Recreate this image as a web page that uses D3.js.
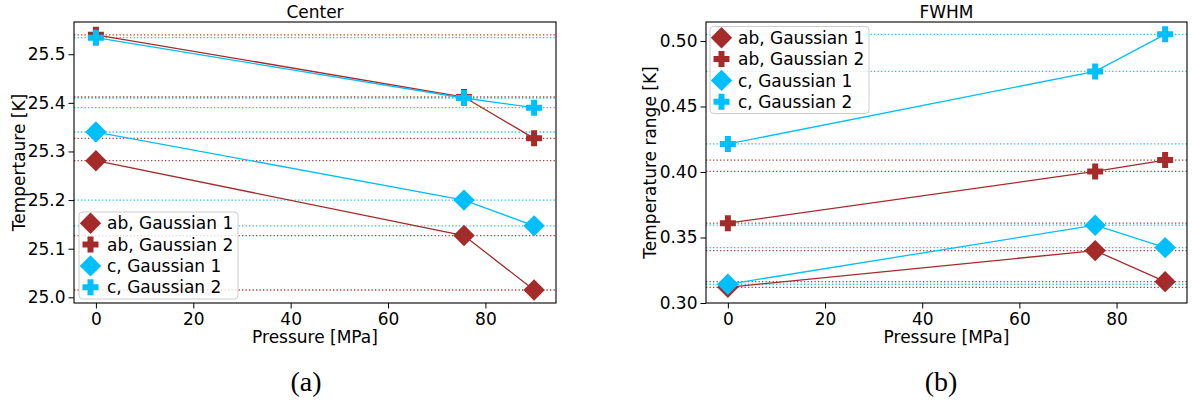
<!DOCTYPE html>
<html>
<head>
<meta charset="utf-8">
<script src="https://cdn.jsdelivr.net/npm/d3@7"></script>
<style>
  html, body { margin: 0; padding: 0; background: #fff; }
  svg { display: block; }
  text { font-family: "DejaVu Sans", sans-serif; fill: #000; }
</style>
</head>
<body>
<svg id="chart" width="1192" height="405"></svg>
<script>
// ---------- data ----------
const pressures = [0, 75.6, 90];
const seriesNames = ["ab, Gaussian 1", "ab, Gaussian 2", "c, Gaussian 1", "c, Gaussian 2"];
const seriesColors = ["#a52a2a", "#a52a2a", "#00bfff", "#00bfff"];
const seriesMarkers = ["diamond", "plus", "diamond", "plus"];

const centerAbG1 = [25.281, 25.127, 25.015];
const centerAbG2 = [25.540, 25.412, 25.327];
const centerCG1  = [25.340, 25.200, 25.147];
const centerCG2  = [25.534, 25.410, 25.390];

const fwhmAbG1 = [0.312, 0.340, 0.3163];
const fwhmAbG2 = [0.3609, 0.4004, 0.4091];
const fwhmCG1  = [0.3143, 0.3594, 0.3423];
const fwhmCG2  = [0.4214, 0.4768, 0.5051];

const xTicks = [0, 20, 40, 60, 80];
const centerYTicks = [25.0, 25.1, 25.2, 25.3, 25.4, 25.5];
const fwhmYTicks = [0.30, 0.35, 0.40, 0.45, 0.50];
const xDomain = [-4.5, 94.5];
const centerYDomain = [24.9883, 25.5663];
const fwhmYDomain = [0.300, 0.5145];

const svg = d3.select("#chart");
const FS = 17;

function markerPath(type) {
  if (type === "diamond") {
    const r = 10.7;
    return `M0,${-r}L${r},0L0,${r}L${-r},0Z`;
  }
  const a = 8, w = 3;
  return `M${-w},${-a}H${w}V${-w}H${a}V${w}H${w}V${a}H${-w}V${w}H${-a}V${-w}H${-w}Z`;
}

function panel(opts) {
  const { x0, x1, y0, y1, seriesData, yDomain, yTicks, yFmt, title, ylabel, ylabelX, legendPos, caption, captionX } = opts;
  const g = svg.append("g");
  const x = d3.scaleLinear().domain(xDomain).range([x0, x1]);
  const y = d3.scaleLinear().domain(yDomain).range([y1, y0]);

  // background
  g.append("rect").attr("x", x0).attr("y", y0).attr("width", x1 - x0).attr("height", y1 - y0).attr("fill", "#fff");

  // dotted reference lines
  seriesData.forEach((vals, si) => {
    g.append("g").selectAll("line").data(vals).join("line")
      .attr("x1", x0).attr("x2", x1)
      .attr("y1", d => y(d)).attr("y2", d => y(d))
      .attr("stroke", seriesColors[si]).attr("stroke-width", 1.3)
      .attr("stroke-dasharray", "1.3,2.2").attr("opacity", 0.9);
  });

  // series lines
  const line = d3.line().x((d, i) => x(pressures[i])).y(d => y(d));
  seriesData.forEach((vals, si) => {
    g.append("path").datum(vals).attr("d", line)
      .attr("fill", "none").attr("stroke", seriesColors[si]).attr("stroke-width", 1.3);
  });
  // markers
  seriesData.forEach((vals, si) => {
    g.append("g").selectAll("path").data(vals).join("path")
      .attr("d", markerPath(seriesMarkers[si]))
      .attr("transform", (d, i) => `translate(${x(pressures[i])},${y(d)})`)
      .attr("fill", seriesColors[si]);
  });

  // frame
  g.append("rect").attr("x", x0).attr("y", y0).attr("width", x1 - x0).attr("height", y1 - y0)
    .attr("fill", "none").attr("stroke", "#000").attr("stroke-width", 1.1);

  // x axis
  const xa = g.append("g").attr("transform", `translate(0,${y1})`)
    .call(d3.axisBottom(x).tickValues(xTicks).tickSize(5.5).tickPadding(4).tickFormat(d3.format("d")));
  xa.select(".domain").remove();
  xa.selectAll("text").attr("font-size", FS).attr("font-family", "DejaVu Sans").attr("fill", "#000");
  xa.selectAll("line").attr("stroke", "#000").attr("stroke-width", 1);

  // y axis
  const ya = g.append("g").attr("transform", `translate(${x0},0)`)
    .call(d3.axisLeft(y).tickValues(yTicks).tickSize(5.5).tickPadding(3).tickFormat(yFmt));
  ya.select(".domain").remove();
  ya.selectAll("text").attr("font-size", FS).attr("font-family", "DejaVu Sans").attr("fill", "#000");
  ya.selectAll("line").attr("stroke", "#000").attr("stroke-width", 1);

  // title
  g.append("text").attr("x", (x0 + x1) / 2).attr("y", 18).attr("text-anchor", "middle")
    .attr("font-size", FS).text(title);
  // x label
  g.append("text").attr("x", (x0 + x1) / 2).attr("y", 343).attr("text-anchor", "middle")
    .attr("font-size", FS).text("Pressure [MPa]");
  // y label
  g.append("text").attr("transform", `translate(${ylabelX},${(y0 + y1) / 2}) rotate(-90)`)
    .attr("text-anchor", "middle").attr("font-size", FS).text(ylabel);

  // legend
  const lw = 159, lh = 87;
  const lg = g.append("g").attr("transform", `translate(${legendPos[0]},${legendPos[1]})`);
  lg.append("rect").attr("width", lw).attr("height", lh).attr("rx", 3.5)
    .attr("fill", "#fff").attr("fill-opacity", 0.8).attr("stroke", "#cccccc").attr("stroke-width", 1);
  seriesNames.forEach((name, i) => {
    const cy = 11.3 + i * 21.3;
    lg.append("path").attr("d", markerPath(seriesMarkers[i]))
      .attr("transform", `translate(11.5,${cy})`).attr("fill", seriesColors[i]);
    lg.append("text").attr("x", 28).attr("y", cy).attr("dy", "0.36em")
      .attr("font-size", FS).text(name);
  });

  // caption
  svg.append("text").attr("x", captionX).attr("y", 391).attr("text-anchor", "middle")
    .attr("font-family", "Liberation Serif, serif").attr("font-size", 28).style("font-family", "'Liberation Serif', serif")
    .text(caption);
}

panel({
  x0: 74, x1: 556, y0: 22, y1: 303,
  seriesData: [centerAbG1, centerAbG2, centerCG1, centerCG2],
  yDomain: centerYDomain, yTicks: centerYTicks, yFmt: d3.format(".1f"),
  title: "Center", ylabel: "Tempertaure [K]", ylabelX: 25,
  legendPos: [79, 212], caption: "(a)", captionX: 306
});
panel({
  x0: 706, x1: 1187, y0: 22, y1: 303,
  seriesData: [fwhmAbG1, fwhmAbG2, fwhmCG1, fwhmCG2],
  yDomain: fwhmYDomain, yTicks: fwhmYTicks, yFmt: d3.format(".2f"),
  title: "FWHM", ylabel: "Temperature range [K]", ylabelX: 656,
  legendPos: [710, 26.5], caption: "(b)", captionX: 941
});
</script>
</body>
</html>
